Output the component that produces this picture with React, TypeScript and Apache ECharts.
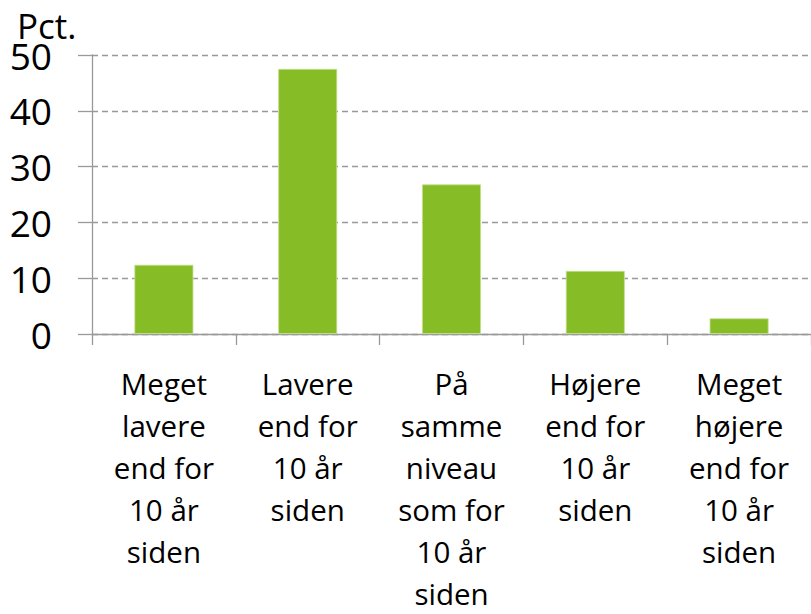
import React, { useEffect, useRef } from "react";
import * as echarts from "echarts";

const categories = [
  "Meget\nlavere\nend for\n10 år\nsiden",
  "Lavere\nend for\n10 år\nsiden",
  "På\nsamme\nniveau\nsom for\n10 år\nsiden",
  "Højere\nend for\n10 år\nsiden",
  "Meget\nhøjere\nend for\n10 år\nsiden",
];
const values = [12.4, 47.5, 26.8, 11.3, 2.8];
const yTitle = "Pct.";

export default function App() {
  const ref = useRef<HTMLDivElement>(null);
  useEffect(() => {
    const chart = echarts.init(ref.current!, null, { renderer: "svg" });
    const font = "'Open Sans', sans-serif";
    chart.setOption({
      animation: false,
      textStyle: { fontFamily: font },
      grid: { left: 92, top: 55, width: 722.5, height: 282, containLabel: false },
      graphic: [
        {
          type: "text",
          left: 17,
          top: 8,
          style: { text: yTitle, fontSize: 35, fontFamily: font, fill: "#000" },
        },
      ],
      xAxis: {
        type: "category",
        data: categories,
        axisLine: { lineStyle: { color: "#999", width: 1.3 } },
        axisTick: { show: true, length: 11, alignWithLabel: false, lineStyle: { color: "#999", width: 1.3 } },
        axisLabel: {
          interval: 0,
          margin: 28,
          fontSize: 29.5,
          lineHeight: 42,
          color: "#000",
          fontFamily: font,
          align: "center",
        },
      },
      yAxis: {
        type: "value",
        min: 0,
        max: 50,
        interval: 10,
        axisLine: { show: true, lineStyle: { color: "#999", width: 1.3 } },
        axisTick: { show: true, length: 14, lineStyle: { color: "#999", width: 1.3 } },
        splitLine: { show: true, lineStyle: { color: "#999", type: [6, 4], width: 1.3 } },
        axisLabel: { fontSize: 37, color: "#000", margin: 40, fontFamily: font },
      },
      series: [
        {
          type: "bar",
          data: values,
          barWidth: "41%",
          itemStyle: { color: "#86bc25", borderColor: "#c5e08f", borderWidth: 0.8 },
        },
      ],
    });
    return () => chart.dispose();
  }, []);
  return (
    <div
      ref={ref}
      style={{ position: "absolute", left: 0, top: 0, width: 811, height: 614 }}
    />
  );
}
